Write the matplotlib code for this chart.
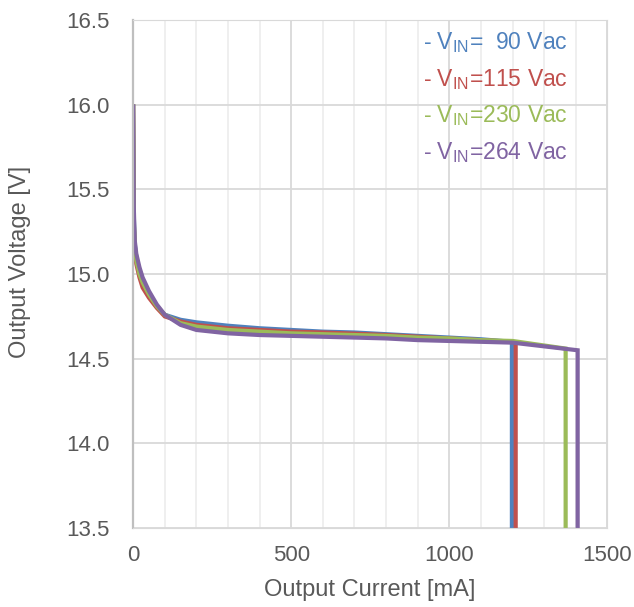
import numpy as np
import matplotlib.pyplot as plt
from matplotlib.ticker import MultipleLocator

plt.rcParams['font.family'] = ['Liberation Sans', 'DejaVu Sans']

# (mA, V)
i_90 = [0, 2, 5, 10, 20, 30, 50, 75, 100, 150, 200, 300, 400, 500, 600, 700, 800, 900, 1000, 1100, 1198, 1198]
v_90 = [15.99, 15.35, 15.18, 15.10, 15.01, 14.95, 14.88, 14.81, 14.76, 14.73, 14.715, 14.695, 14.68, 14.67, 14.66,
        14.655, 14.645, 14.635, 14.625, 14.615, 14.60, 13.0]
i_115 = [0, 2, 5, 10, 20, 30, 50, 75, 100, 150, 200, 300, 400, 500, 600, 700, 800, 900, 1000, 1100, 1200, 1210, 1210]
v_115 = [15.99, 15.30, 15.15, 15.06, 14.98, 14.92, 14.86, 14.80, 14.75, 14.72, 14.70, 14.68, 14.67, 14.66, 14.655,
         14.648, 14.64, 14.63, 14.62, 14.61, 14.60, 14.595, 13.0]
i_230 = [0, 2, 5, 10, 20, 30, 50, 75, 100, 150, 200, 300, 400, 500, 600, 700, 800, 900, 1000, 1100, 1200, 1368, 1368]
v_230 = [15.99, 15.32, 15.17, 15.08, 15.00, 14.95, 14.88, 14.81, 14.76, 14.71, 14.69, 14.67, 14.66, 14.65, 14.645,
         14.64, 14.635, 14.625, 14.62, 14.61, 14.605, 14.56, 13.0]
i_264 = [0, 2, 5, 10, 20, 30, 50, 75, 100, 150, 200, 300, 400, 500, 600, 700, 800, 900, 1000, 1100, 1200, 1406, 1406]
v_264 = [15.99, 15.40, 15.20, 15.12, 15.04, 14.98, 14.90, 14.82, 14.76, 14.70, 14.67, 14.65, 14.64, 14.635, 14.63,
         14.625, 14.62, 14.61, 14.605, 14.60, 14.595, 14.55, 13.0]

labels = ['90', '115', '230', '264']
colors = ['#4F81BD', '#C0504D', '#9BBB59', '#8064A2']

fig = plt.figure(figsize=(6.34, 6.07), dpi=100)
ax = fig.add_axes([0.21, 0.13, 0.748, 0.837])

for xs, ys, c in zip([i_90, i_115, i_230, i_264], [v_90, v_115, v_230, v_264], colors):
    ax.plot(xs, ys, color=c, lw=3.0, solid_joinstyle='miter')

ax.set_xlim(0, 1500)
ax.set_ylim(13.5, 16.5)
ax.xaxis.set_major_locator(MultipleLocator(500))
ax.xaxis.set_minor_locator(MultipleLocator(100))
ax.yaxis.set_major_locator(MultipleLocator(0.5))
ax.yaxis.set_major_formatter(plt.FormatStrFormatter('%.1f'))
ax.grid(which='major', color='#D9D9D9', lw=1.3)
ax.grid(which='minor', axis='x', color='#EEEEEE', lw=1.3)
ax.set_axisbelow(True)
for s in ['top', 'right', 'bottom']:
    ax.spines[s].set_color('#D9D9D9')
ax.spines['left'].set_color('#BFBFBF')
ax.spines['left'].set_linewidth(1.6)
ax.tick_params(which='both', length=0, labelsize=16, colors='#595959')
ax.tick_params(axis='y', pad=17)
ax.tick_params(axis='x', pad=12)

fig.text(370 / 634, 1 - 590 / 607, 'Output Current [mA]', fontsize=17, color='#595959', ha='center', va='center')
fig.text(20 / 634, 1 - 262 / 607, 'Output Voltage [V]', fontsize=17, color='#595959', ha='center', va='center',
         rotation=90)

for k, (lab, c) in enumerate(zip(labels, colors)):
    sp = '  ' if lab == '90' else ''
    fig.text(423 / 634, 1 - (43 + k * 36.5) / 607, r'- V$_{\mathregular{IN}}$=' + sp + lab + ' Vac', color=c,
             fontsize=16.5, ha='left', va='center')

fig.savefig('out.png', dpi=100)
